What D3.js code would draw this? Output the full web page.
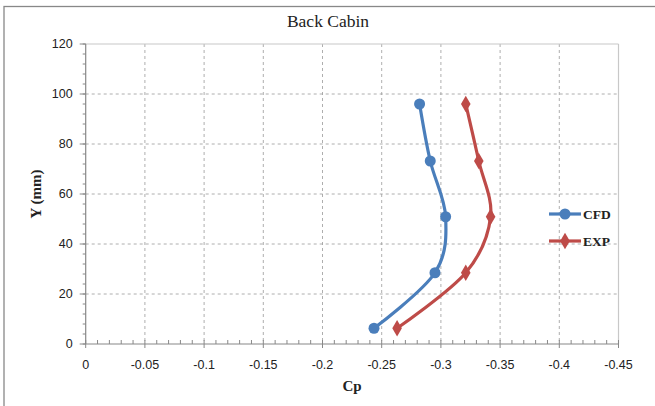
<!DOCTYPE html>
<html><head><meta charset="utf-8">
<script src="https://cdn.jsdelivr.net/npm/d3@7"></script>
<style>body{margin:0;background:#fff}svg{display:block}</style>
</head><body>
<svg id="c" width="655" height="406"></svg>
<script>
const yValues = [96, 73.2, 50.9, 28.5, 6.3];
const cfdValues = [-0.282, -0.291, -0.304, -0.295, -0.2435];
const expValues = [-0.321, -0.332, -0.342, -0.321, -0.263];
const xTicks = [0, -0.05, -0.1, -0.15, -0.2, -0.25, -0.3, -0.35, -0.4, -0.45];
const yTicks = [0, 20, 40, 60, 80, 100, 120];
const seriesNames = ["CFD", "EXP"];

const svg = d3.select("#c");
const L = 85.7, R = 618.5, T = 44, B = 344;
const x = d3.scaleLinear().domain([0, -0.45]).range([L, R]);
const y = d3.scaleLinear().domain([0, 120]).range([B, T]);

// outer border
svg.append("rect").attr("x", 4).attr("y", 6.5).attr("width", 700).attr("height", 500)
  .attr("fill", "none").attr("stroke", "#888").attr("stroke-width", 1.3);

// gridlines
const g = svg.append("g");
xTicks.slice(1, -1).forEach(t => g.append("line").attr("x1", x(t)).attr("x2", x(t)).attr("y1", T).attr("y2", B)
  .attr("stroke", "#999").attr("stroke-dasharray", "3,3").attr("stroke-width", 0.8));
yTicks.slice(1, -1).forEach(t => g.append("line").attr("x1", L).attr("x2", R).attr("y1", y(t)).attr("y2", y(t))
  .attr("stroke", "#999").attr("stroke-dasharray", "3,3").attr("stroke-width", 0.8));
g.append("line").attr("x1", L).attr("x2", R).attr("y1", T).attr("y2", T).attr("stroke", "#c8c8c8").attr("stroke-width", 1.2);
g.append("line").attr("x1", R).attr("x2", R).attr("y1", T).attr("y2", B).attr("stroke", "#c8c8c8").attr("stroke-width", 1.2);

// axes
const xMinor = d3.range(0, 46).map(i => -i * 0.01);
const axX = svg.append("g").attr("transform", `translate(0,${B})`);
axX.append("line").attr("x1", L).attr("x2", R).attr("stroke", "#888").attr("stroke-width", 1.2);
xMinor.forEach(t => axX.append("line").attr("x1", x(t)).attr("x2", x(t)).attr("y1", 0).attr("y2", -4).attr("stroke", "#888"));
xTicks.forEach(t => axX.append("line").attr("x1", x(t)).attr("x2", x(t)).attr("y1", 0).attr("y2", 4).attr("stroke", "#888"));
xTicks.forEach(t => axX.append("text").attr("x", x(t)).attr("y", 25).attr("text-anchor", "middle")
  .attr("font-family", "Liberation Sans, Arial, sans-serif").attr("font-size", 12.5).attr("fill", "#222").text(String(t)));

const axY = svg.append("g").attr("transform", `translate(${L},0)`);
axY.append("line").attr("y1", T).attr("y2", B).attr("stroke", "#888").attr("stroke-width", 1.2);
d3.range(0, 121, 4).forEach(t => axY.append("line").attr("x1", -3).attr("x2", 0).attr("y1", y(t)).attr("y2", y(t)).attr("stroke", "#888"));
yTicks.forEach(t => axY.append("line").attr("x1", -6).attr("x2", 0).attr("y1", y(t)).attr("y2", y(t)).attr("stroke", "#888"));
yTicks.forEach(t => axY.append("text").attr("x", -13).attr("y", y(t)).attr("dy", "0.35em").attr("text-anchor", "end")
  .attr("font-family", "Liberation Sans, Arial, sans-serif").attr("font-size", 12.5).attr("fill", "#222").text(String(t)));

// titles
svg.append("text").attr("x", 328).attr("y", 27).attr("text-anchor", "middle")
  .attr("font-family", "Liberation Serif, serif").attr("font-size", 17.5).attr("fill", "#222").text("Back Cabin");
svg.append("text").attr("x", 352).attr("y", 391).attr("text-anchor", "middle")
  .attr("font-family", "Liberation Serif, serif").attr("font-weight", "bold").attr("font-size", 15).attr("fill", "#222").text("Cp");
svg.append("text").attr("transform", "translate(41,194) rotate(-90)").attr("text-anchor", "middle")
  .attr("font-family", "Liberation Serif, serif").attr("font-weight", "bold").attr("font-size", 15).attr("fill", "#222").text("Y (mm)");

// series
const colors = ["#4A7EBB", "#BE4B48"];
const data = [cfdValues, expValues].map(vals => vals.map((v, i) => ({ cp: v, y: yValues[i] })));
const line = d3.line().x(d => x(d.cp)).y(d => y(d.y)).curve(d3.curveCatmullRom.alpha(0));
const circ = d3.symbol().type(d3.symbolCircle).size(95);
const diam = d3.symbol().type(d3.symbolDiamond).size(80);
data.forEach((pts, k) => {
  svg.append("path").attr("d", line(pts)).attr("fill", "none").attr("stroke", colors[k]).attr("stroke-width", 3.2).attr("stroke-linecap", "round");
  svg.selectAll(null).data(pts).enter().append("path")
    .attr("transform", d => `translate(${x(d.cp)},${y(d.y)})`)
    .attr("d", k === 0 ? circ : diam).attr("fill", colors[k]);
});

// legend
seriesNames.forEach((n, k) => {
  const ly = 214 + k * 27;
  svg.append("line").attr("x1", 549).attr("x2", 581).attr("y1", ly).attr("y2", ly).attr("stroke", colors[k]).attr("stroke-width", 3.2);
  svg.append("path").attr("transform", `translate(565,${ly})`).attr("d", k === 0 ? circ : diam).attr("fill", colors[k]);
  svg.append("text").attr("x", 583).attr("y", ly).attr("dy", "0.35em")
    .attr("font-family", "Liberation Serif, serif").attr("font-weight", "bold").attr("font-size", 13.5).attr("fill", "#222").text(n);
});
</script>
</body></html>
